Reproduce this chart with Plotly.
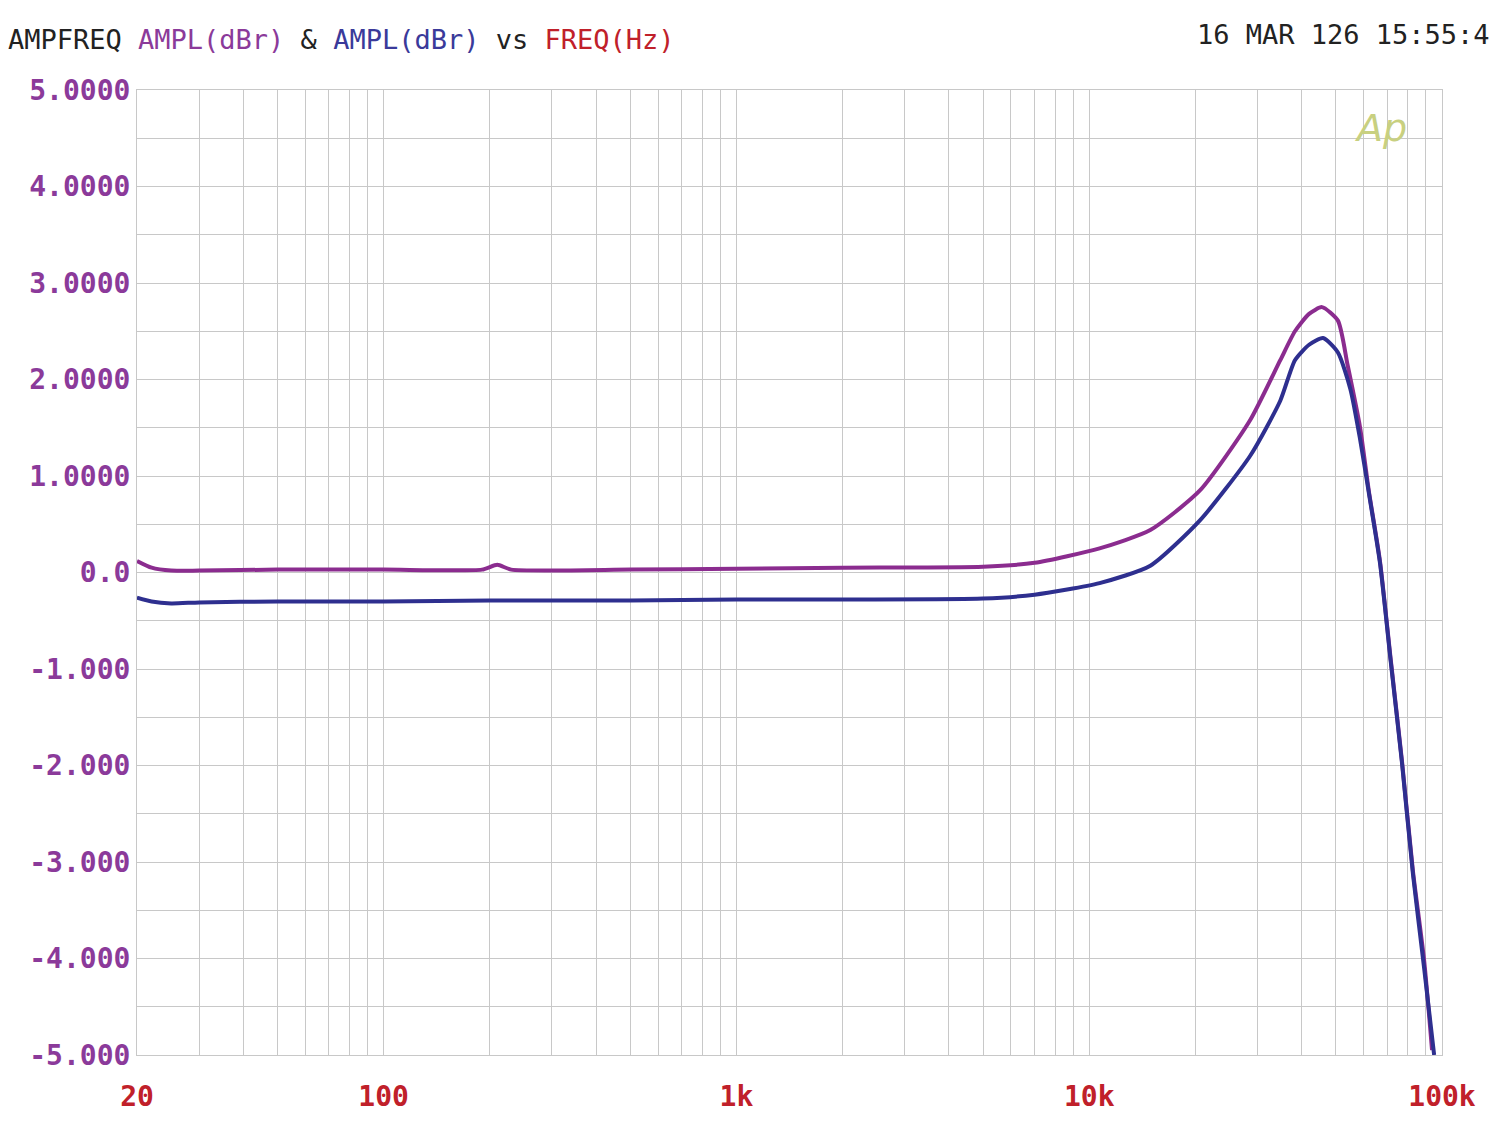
import numpy as np
import plotly.graph_objects as go

# Frequency response (Hz, dBr)
freq_mag = [20, 22, 25, 30, 50, 100, 190, 210, 230, 500, 1000, 2000, 5000, 7000, 10700,
            14900, 20600, 28600, 34800, 38300, 42000, 45700, 50700, 54000, 58600, 62000,
            66700, 71600, 77000, 82700, 89000, 93700]
ampl_mag = [0.12, 0.05, 0.02, 0.02, 0.03, 0.03, 0.03, 0.08, 0.03, 0.03, 0.04, 0.05, 0.06, 0.1, 0.25,
            0.44, 0.85, 1.58, 2.2, 2.5, 2.68, 2.75, 2.61, 2.15, 1.5, 0.85,
            0.12, -0.91, -1.95, -3.09, -4.02, -4.95]

freq_blu = [20, 22, 25, 30, 50, 100, 200, 500, 1000, 2000, 5000, 7000, 10700,
            14900, 20600, 28600, 34800, 38300, 42000, 46000, 50700, 55000, 58600, 62000,
            66700, 71600, 77000, 82700, 89000, 95000]
ampl_blu = [-0.26, -0.3, -0.32, -0.31, -0.3, -0.3, -0.29, -0.29, -0.28, -0.28, -0.27, -0.23, -0.11,
            0.07, 0.54, 1.21, 1.78, 2.2, 2.36, 2.43, 2.28, 1.9, 1.38, 0.83,
            0.1, -0.93, -1.97, -3.12, -4.1, -5.0]

y_ticks = [5, 4, 3, 2, 1, 0, -1, -2, -3, -4, -5]
y_labels = ["5.0000", "4.0000", "3.0000", "2.0000", "1.0000", "0.0",
            "-1.000", "-2.000", "-3.000", "-4.000", "-5.000"]
x_ticks = [20, 100, 1000, 10000, 100000]
x_labels = ["20", "100", "1k", "10k", "100k"]

mono = "DejaVu Sans Mono"

fig = go.Figure()
fig.add_trace(go.Scatter(x=freq_mag, y=ampl_mag, mode="lines",
                         line=dict(color="#8b2c8f", width=4, shape="spline", smoothing=0.6)))
fig.add_trace(go.Scatter(x=freq_blu, y=ampl_blu, mode="lines",
                         line=dict(color="#2e2f8f", width=4, shape="spline", smoothing=0.6)))

fig.update_layout(
    width=1500, height=1125, showlegend=False,
    paper_bgcolor="white", plot_bgcolor="white",
    margin=dict(l=129, r=66, t=82, b=78),
    title=dict(
        text="AMPFREQ <span style='color:#8b3a9a'>AMPL(dBr)</span> & "
             "<span style='color:#3a3a9a'>AMPL(dBr)</span> vs "
             "<span style='color:#c0202a'>FREQ(Hz)</span>",
        x=0.0, xanchor="left", y=0.972, yanchor="middle",
        font=dict(family=mono, size=27, color="#222"),
    ),
)
fig.update_xaxes(type="log", range=[np.log10(20), 5], tickvals=x_ticks, ticktext=x_labels,
                 tickfont=dict(family=mono, size=28, color="#c0202a", weight="bold"),
                 ticklabelstandoff=16,
                 showgrid=True, gridcolor="#c8c8c8", gridwidth=1,
                 minor=dict(showgrid=True, gridcolor="#c8c8c8", tickvals=[
                     f * 10 ** d for d in range(1, 5) for f in range(2, 10) if 20 <= f * 10 ** d <= 100000]),
                 showline=True, linecolor="#c8c8c8", mirror=True, ticks="", zeroline=False)
fig.update_yaxes(range=[-5, 5], tickvals=y_ticks, ticktext=y_labels,
                 tickfont=dict(family=mono, size=28, color="#8b3a9a", weight="bold"),
                 showgrid=True, gridcolor="#c8c8c8",
                 minor=dict(showgrid=True, gridcolor="#c8c8c8", dtick=0.5),
                 showline=True, linecolor="#c8c8c8", mirror=True, ticks="", zeroline=False)

fig.add_annotation(text="16 MAR 126 15:55:4", xref="paper", yref="paper", x=1.038, y=1.058,
                   xanchor="right", yanchor="middle", showarrow=False,
                   font=dict(family=mono, size=27, color="#222"))
fig.add_annotation(text="<i>Ap</i>", xref="paper", yref="paper", x=0.975, y=0.985,
                   xanchor="right", yanchor="top", showarrow=False,
                   font=dict(family="DejaVu Sans", size=38, color="#c8d080"))

fig.write_html("out.html")
